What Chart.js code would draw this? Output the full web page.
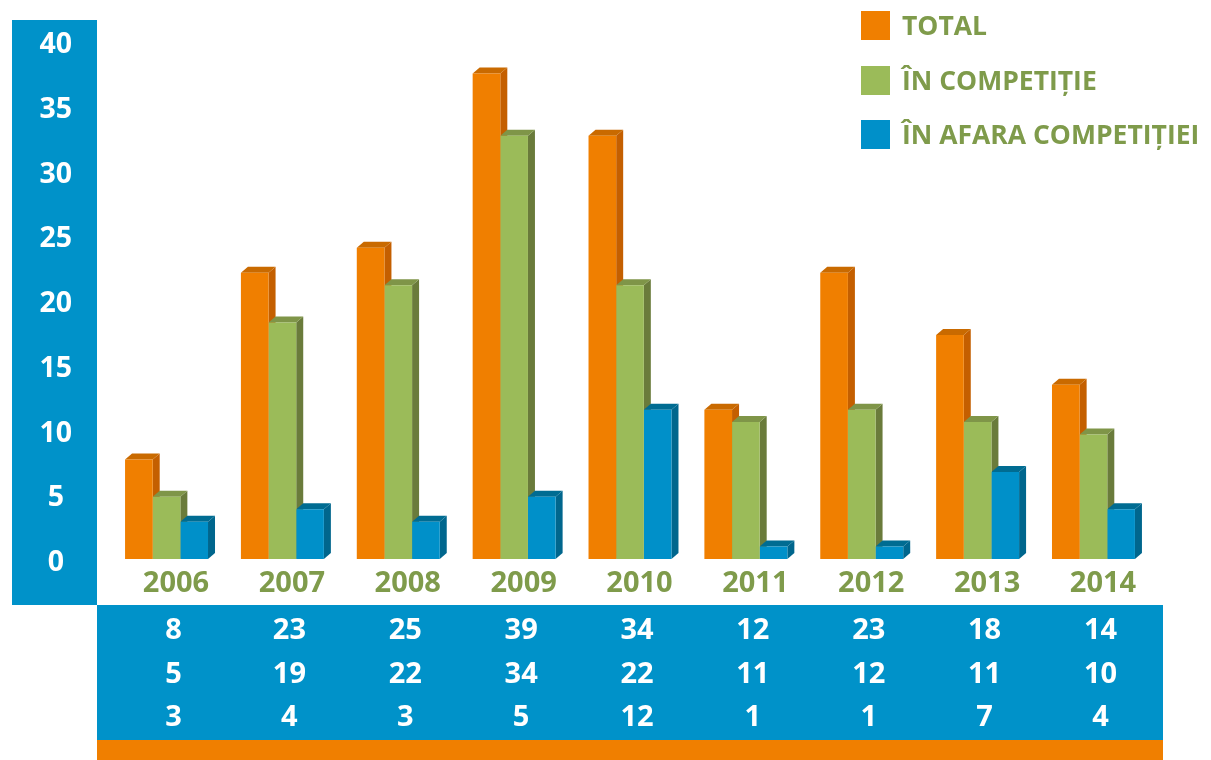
<!DOCTYPE html>
<html>
<head>
<meta charset="utf-8">
<script src="https://cdn.jsdelivr.net/npm/chart.js@4.4.1/dist/chart.umd.min.js"></script>
<style>
html,body{margin:0;padding:0;background:#fff;}
#wrap{width:1211px;height:760px;position:relative;}
</style>
</head>
<body>
<div id="wrap"><canvas id="c" width="1211" height="760"></canvas></div>
<script>
const years = ['2006','2007','2008','2009','2010','2011','2012','2013','2014'];
const total = [8, 23, 25, 39, 34, 12, 23, 18, 14];
const inCompetition = [5, 19, 22, 34, 22, 11, 12, 11, 10];
const outCompetition = [3, 4, 3, 5, 12, 1, 1, 7, 4];
const seriesNames = ['TOTAL', 'ÎN COMPETIȚIE', 'ÎN AFARA COMPETIȚIEI'];
const yTickValues = [0, 5, 10, 15, 20, 25, 30, 35, 40];

const FRONT = ['#f07f00', '#9bbb59', '#0090c9'];
const SIDE = ['#c45f00', '#6a7b3b', '#00668d'];
const TOP = ['#c96a00', '#7f9548', '#006c92'];
const PANEL_BLUE = '#0092c9';
const ORANGE = '#f07f00';
const GREEN_TEXT = '#7f9b4b';
const FONT = '"Open Sans", "Noto Sans", sans-serif';

const DX = 7, DY = 6;

const bars3d = {
  id: 'bars3d',
  beforeDraw(chart) {
    const ctx = chart.ctx;
    ctx.save();
    ctx.fillStyle = PANEL_BLUE;
    ctx.fillRect(12, 20, 85, 585);
    ctx.fillRect(97, 605, 1066, 135);
    ctx.fillStyle = ORANGE;
    ctx.fillRect(97, 740, 1066, 20);
    ctx.restore();
  },
  beforeDatasetsDraw(chart) {
    const ctx = chart.ctx;
    ctx.save();
    chart.data.datasets.forEach((ds, di) => {
      const meta = chart.getDatasetMeta(di);
      meta.data.forEach(bar => {
        const p = bar.getProps(['x', 'y', 'base', 'width'], true);
        const l = p.x - p.width / 2, r = p.x + p.width / 2, t = p.y, b = p.base;
        ctx.fillStyle = SIDE[di];
        ctx.beginPath();
        ctx.moveTo(r, t); ctx.lineTo(r + DX, t - DY); ctx.lineTo(r + DX, b - DY); ctx.lineTo(r, b);
        ctx.closePath(); ctx.fill();
        ctx.fillStyle = TOP[di];
        ctx.beginPath();
        ctx.moveTo(l, t); ctx.lineTo(l + DX, t - DY); ctx.lineTo(r + DX, t - DY); ctx.lineTo(r, t);
        ctx.closePath(); ctx.fill();
      });
    });
    ctx.restore();
  },
  afterDraw(chart) {
    const ctx = chart.ctx;
    const xs = chart.scales.x;
    ctx.save();
    // data table
    ctx.fillStyle = '#ffffff';
    ctx.font = 'bold 29px ' + FONT;
    ctx.textAlign = 'center';
    ctx.textBaseline = 'middle';
    const rows = [631, 675, 718];
    chart.data.datasets.forEach((ds, di) => {
      ds.data.forEach((v, i) => {
        ctx.fillText(String(v), xs.getPixelForValue(i) + 7, rows[di]);
      });
    });
    // legend
    const ly = [26, 81, 135];
    ctx.textAlign = 'left';
    ctx.font = 'bold 26.5px ' + FONT;
    chart.data.datasets.forEach((ds, di) => {
      ctx.fillStyle = FRONT[di];
      ctx.fillRect(861, ly[di] - 15, 29, 29);
      ctx.fillStyle = GREEN_TEXT;
      ctx.fillText(ds.label, 902, ly[di] + 1);
    });
    ctx.restore();
  }
};

const mk = (label, data, i) => ({
  label, data, backgroundColor: FRONT[i], borderWidth: 0,
  barPercentage: 1.0, categoryPercentage: 0.716, yAxisID: 'y'
});

const noPad = s => { s.paddingTop = 0; s.paddingBottom = 0; s.paddingLeft = 0; s.paddingRight = 0; };

new Chart(document.getElementById('c'), {
  type: 'bar',
  data: {
    labels: years,
    datasets: [
      mk(seriesNames[0], total, 0),
      mk(seriesNames[1], inCompetition, 1),
      mk(seriesNames[2], outCompetition, 2)
    ]
  },
  options: {
    responsive: false,
    animation: false,
    events: [],
    layout: { padding: { top: 40, left: 0, right: 59.6, bottom: 0 } },
    plugins: { legend: { display: false }, tooltip: { enabled: false } },
    scales: {
      x: {
        position: 'bottom',
        grid: { display: false, drawTicks: false },
        border: { display: false },
        ticks: {
          color: GREEN_TEXT,
          font: { family: FONT, size: 29, weight: 'bold' },
          labelOffset: 9.5,
          padding: 1,
          maxRotation: 0
        },
        afterFit(s) { s.height = 195; noPad(s); }
      },
      y: {
        display: false,
        min: -0.48,
        max: 41.69
      },
      yl: {
        position: 'left',
        min: -0.154,
        max: 40.386,
        grid: { display: false, drawTicks: false },
        border: { display: false },
        afterBuildTicks(s) { s.ticks = yTickValues.map(v => ({ value: v })); },
        ticks: {
          color: '#ffffff',
          font: { family: FONT, size: 28.5, weight: 'bold' },
          crossAlign: 'center',
          padding: 36.5
        },
        afterFit(s) { s.width = 108.6; noPad(s); }
      }
    }
  },
  plugins: [bars3d]
});
</script>
</body>
</html>
